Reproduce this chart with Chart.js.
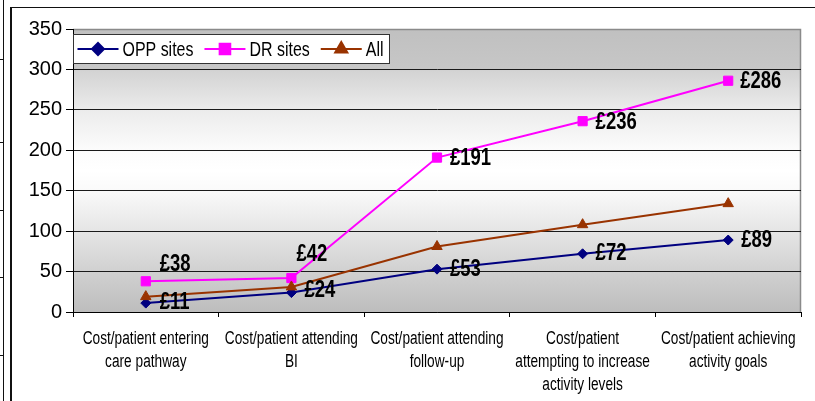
<!DOCTYPE html>
<html>
<head>
<meta charset="utf-8">
<script src="https://cdn.jsdelivr.net/npm/chart.js@4/dist/chart.umd.min.js"></script>
<style>
  html, body { margin: 0; padding: 0; background: #fff; }
  #wrap { position: relative; width: 815px; height: 401px; overflow: hidden; }
  #c { position: absolute; left: 0; top: 0; }
  .rule { position: absolute; background: #111; }
</style>
</head>
<body>
<div id="wrap">
  <canvas id="c" width="815" height="401" style="width:815px;height:401px"></canvas>
  <!-- surrounding page frame -->
  <div class="rule" style="left:3px;top:0;width:1px;height:401px"></div>
  <div class="rule" style="left:0;top:59px;width:3px;height:1px"></div>
  <div class="rule" style="left:0;top:142px;width:3px;height:1px"></div>
  <div class="rule" style="left:0;top:210px;width:3px;height:1px"></div>
  <div class="rule" style="left:0;top:277px;width:3px;height:1px"></div>
  <div class="rule" style="left:0;top:355px;width:3px;height:1px"></div>
  <div class="rule" style="left:10px;top:7px;width:2px;height:394px"></div>
  <div class="rule" style="left:10px;top:7px;width:805px;height:1px"></div>
</div>
<script>
// Cost per patient at each stage of the pathway
const categories = [
  ['Cost/patient entering', 'care pathway'],
  ['Cost/patient attending', 'BI'],
  ['Cost/patient attending', 'follow-up'],
  ['Cost/patient', 'attempting to increase', 'activity levels'],
  ['Cost/patient achieving', 'activity goals']
];
const seriesNames = ['OPP sites', 'DR sites', 'All'];
const oppSites = [11, 24, 53, 72, 89];
const drSites = [38, 42, 191, 236, 286];
const allSites = [19, 31, 81, 108, 134];
const yTicks = [0, 50, 100, 150, 200, 250, 300, 350];

const FACE = "'Liberation Sans', Arial, sans-serif";

// draw text squeezed horizontally, giving a narrow typeface look
function narrowText(ctx, text, x, y, squeeze, align) {
  ctx.save();
  ctx.translate(x, y);
  ctx.scale(squeeze, 1);
  ctx.textAlign = align || 'left';
  ctx.textBaseline = 'middle';
  ctx.fillText(text, 0, 0);
  ctx.restore();
}

// Grey-white-grey shading behind the plot, with a thin frame on top and right
const plotBackdrop = {
  id: 'plotBackdrop',
  beforeDraw(chart) {
    const { ctx, chartArea: { left, top, right, bottom } } = chart;
    const g = ctx.createLinearGradient(0, top, 0, bottom);
    g.addColorStop(0.00, '#c0c0c0');
    g.addColorStop(0.143, '#c7c7c7');
    g.addColorStop(0.147, '#d3d3d3');
    g.addColorStop(0.29, '#ececec');
    g.addColorStop(0.43, '#fcfcfc');
    g.addColorStop(0.50, '#ffffff');
    g.addColorStop(0.57, '#fafafa');
    g.addColorStop(0.71, '#e6e6e6');
    g.addColorStop(0.86, '#d0d0d0');
    g.addColorStop(1.00, '#bdbdbd');
    ctx.save();
    ctx.fillStyle = g;
    ctx.fillRect(left, top, right - left, bottom - top);
    ctx.strokeStyle = '#8a8a8a';
    ctx.lineWidth = 1.5;
    ctx.beginPath();
    ctx.moveTo(left, top + 0.5);
    ctx.lineTo(right - 0.5, top + 0.5);
    ctx.lineTo(right - 0.5, bottom);
    ctx.stroke();
    ctx.restore();
  }
};

// category names under the x axis, one row per line
const categoryNames = {
  id: 'categoryNames',
  afterDraw(chart, args, opts) {
    const { ctx } = chart;
    const xs = chart.scales.x;
    ctx.save();
    ctx.font = opts.font;
    ctx.fillStyle = '#000';
    chart.data.labels.forEach((lines, i) => {
      const x = xs.getPixelForValue(i);
      lines.forEach((line, k) => {
        narrowText(ctx, line, x, xs.top + opts.firstLine + k * opts.lineGap, opts.squeeze, 'center');
      });
    });
    ctx.restore();
  }
};

// "£" value tags beside the points of the site series
const valueTags = {
  id: 'valueTags',
  afterDatasetsDraw(chart, args, opts) {
    const ctx = chart.ctx;
    ctx.save();
    ctx.font = opts.font;
    ctx.fillStyle = '#000';
    chart.data.datasets.forEach((ds, i) => {
      const shifts = opts.shifts[i];
      if (!shifts) return;
      chart.getDatasetMeta(i).data.forEach((pt, j) => {
        const s = shifts[j];
        narrowText(ctx, '£' + ds.data[j], pt.x + s[0], pt.y + s[1], opts.squeeze, 'left');
      });
    });
    ctx.restore();
  }
};

// Boxed legend sitting at the top-left of the plot
const boxedLegend = {
  id: 'boxedLegend',
  afterDraw(chart, args, opts) {
    const { ctx, chartArea } = chart;
    const x0 = chartArea.left + 0.5;
    const y0 = chartArea.top + 5.5;
    const h = 29;
    const cy = y0 + h / 2;
    const lineLen = 41, gapAfterLine = 4, gapAfterText = 11;
    ctx.save();
    ctx.font = opts.font;
    let x = x0 + 4;
    const items = chart.data.datasets.map(ds => {
      const w = ctx.measureText(ds.label).width * opts.squeeze;
      const item = { ds, x, tx: x + lineLen + gapAfterLine, w };
      x = item.tx + w + gapAfterText;
      return item;
    });
    const boxW = x - gapAfterText + 6 - x0;
    ctx.fillStyle = '#fff';
    ctx.fillRect(x0, y0, boxW, h);
    ctx.strokeStyle = '#333';
    ctx.lineWidth = 1;
    ctx.strokeRect(x0, y0, boxW, h);
    items.forEach(it => {
      const ds = it.ds;
      ctx.strokeStyle = ds.borderColor;
      ctx.lineWidth = 2;
      ctx.beginPath();
      ctx.moveTo(it.x, cy);
      ctx.lineTo(it.x + lineLen, cy);
      ctx.stroke();
      Chart.helpers.drawPoint(ctx, {
        pointStyle: ds.pointStyle,
        radius: ds.pointRadius + 1,
        rotation: 0,
        borderWidth: 1
      }, it.x + lineLen / 2, cy);
      ctx.fillStyle = ds.pointBackgroundColor;
      ctx.fill();
      ctx.fillStyle = '#000';
      narrowText(ctx, ds.label, it.tx, cy + 1, opts.squeeze, 'left');
    });
    ctx.restore();
  }
};

const series = (label, data, color, style, radius, order) => ({
  label, data, order,
  borderColor: color,
  backgroundColor: color,
  pointBackgroundColor: color,
  pointBorderColor: color,
  pointStyle: style,
  pointRadius: radius,
  pointBorderWidth: 1,
  borderWidth: 2,
  tension: 0,
  fill: false
});

new Chart(document.getElementById('c'), {
  type: 'line',
  data: {
    labels: categories,
    datasets: [
      series(seriesNames[0], oppSites, '#000080', 'rectRot', 5, 3),
      series(seriesNames[1], drSites, '#ff00ff', 'rect', 6.5, 2),
      series(seriesNames[2], allSites, '#993300', 'triangle', 6, 1)
    ]
  },
  options: {
    responsive: false,
    animation: false,
    devicePixelRatio: 1,
    layout: { padding: { left: 0, top: 29, right: 14, bottom: 0 } },
    plugins: {
      legend: { display: false },
      tooltip: { enabled: false },
      valueTags: {
        font: "bold 24px " + FACE,
        squeeze: 0.77,
        shifts: {
          0: [[14, -1], [13, -2], [13, 0], [13, 0], [13, 0]],
          1: [[14, -17], [5, -24], [13, 1], [13, 1], [12, 1]]
        }
      },
      boxedLegend: { font: "21px " + FACE, squeeze: 0.76 },
      categoryNames: { font: "18px " + FACE, squeeze: 0.76, firstLine: 27, lineGap: 23 }
    },
    scales: {
      x: {
        type: 'category',
        offset: true,
        afterFit(scale) { scale.height = 89; },
        grid: {
          offset: true,
          drawOnChartArea: false,
          drawTicks: true,
          tickLength: 5,
          color: '#000'
        },
        border: { color: '#000', width: 1 },
        ticks: { display: false, autoSkip: false, maxRotation: 0 }
      },
      y: {
        min: 0,
        max: 350,
        afterFit(scale) { scale.width = 73; },
        afterBuildTicks(scale) { scale.ticks = yTicks.map(v => ({ value: v })); },
        grid: {
          color: ctx => (ctx.tick && ctx.tick.value === 350 ? '#8a8a8a' : '#1a1a1a'),
          lineWidth: 1,
          drawTicks: true,
          tickLength: 7,
          tickColor: '#000'
        },
        border: { color: '#000', width: 1 },
        ticks: {
          color: '#000',
          padding: 4,
          font: { family: FACE, size: 20 }
        }
      }
    }
  },
  plugins: [plotBackdrop, valueTags, boxedLegend, categoryNames]
});
</script>
</body>
</html>
